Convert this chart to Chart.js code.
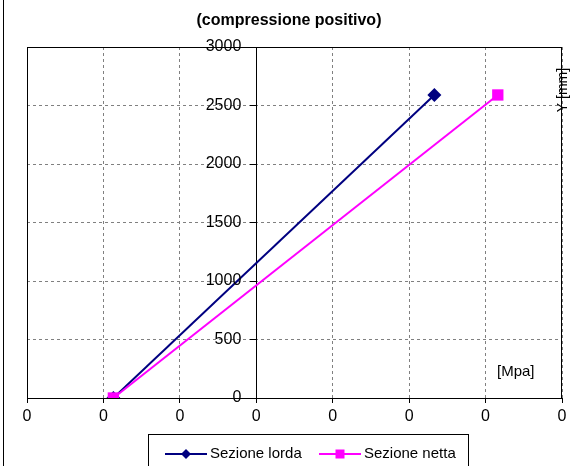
<!DOCTYPE html>
<html>
<head>
<meta charset="utf-8">
<script src="https://cdn.jsdelivr.net/npm/chart.js@4/dist/chart.umd.min.js"></script>
<style>
  html, body { margin: 0; padding: 0; background: #fff; }
  #wrap { width: 570px; height: 466px; position: relative; }
</style>
</head>
<body>
<div id="wrap"><canvas id="c" width="570" height="466"></canvas></div>
<script>
// Stress diagram along the section height
const seriesNames = ['Sezione lorda', 'Sezione netta'];
const heightMm = [0, 2590];           // Y [mm]
const stressLorda = [-0.187, 0.233];  // [MPa], gross section
const stressNetta = [-0.187, 0.316];  // [MPa], net section
const xRange = [-0.3, 0.4];
const xStep = 0.1;
const yRange = [0, 3000];
const yStep = 500;
const chartTitle = '(compressione positivo)';
const xUnit = '[Mpa]';
const yUnit = 'Y [mm]';

const FONT = "'Liberation Sans', Arial, sans-serif";
const NAVY = '#000080';
const MAGENTA = '#FF00FF';

function toPoints(xs, ys) {
  return xs.map((x, i) => ({ x: x, y: ys[i] }));
}

// frame, title, unit labels, y tick labels and boxed legend
const decorations = {
  id: 'decorations',
  beforeDatasetsDraw(chart) {
    const { ctx, chartArea: a } = chart;
    ctx.save();
    ctx.strokeStyle = '#000';
    ctx.lineWidth = 1;
    ctx.strokeRect(Math.round(a.left) + 0.5, Math.round(a.top) + 0.5,
      Math.round(a.right - a.left) - 1, Math.round(a.bottom - a.top));
    ctx.restore();
  },
  afterDraw(chart) {
    const { ctx } = chart;
    const xs = chart.scales.x;
    const ys = chart.scales.y;
    ctx.save();
    // outer chart border (left edge)
    ctx.strokeStyle = '#000';
    ctx.lineWidth = 1;
    ctx.beginPath();
    ctx.moveTo(3.5, 0);
    ctx.lineTo(3.5, chart.height);
    ctx.stroke();

    // y tick labels, left of the axis that crosses at x = 0
    const axisX = xs.getPixelForValue(0);
    ctx.fillStyle = '#000';
    ctx.font = '16px ' + FONT;
    ctx.textAlign = 'right';
    ctx.textBaseline = 'middle';
    ys.ticks.forEach(t => {
      ctx.fillText(String(t.value), axisX - 15, ys.getPixelForValue(t.value));
    });

    // title
    ctx.font = 'bold 16px ' + FONT;
    ctx.textAlign = 'center';
    ctx.fillText(chartTitle, 289, 21);

    // unit labels
    ctx.font = '15px ' + FONT;
    ctx.textAlign = 'left';
    ctx.fillText(xUnit, 497, 372);
    ctx.save();
    ctx.translate(563, 90);
    ctx.rotate(-Math.PI / 2);
    ctx.textAlign = 'center';
    ctx.font = '14px ' + FONT;
    ctx.fillText(yUnit, 0, 0);
    ctx.restore();

    // legend
    ctx.strokeStyle = '#000';
    ctx.lineWidth = 1;
    ctx.strokeRect(148.5, 434.5, 320, 40);
    const rowY = 454;
    const items = chart.data.datasets.map((ds, i) => ({
      label: ds.label, color: ds.borderColor, style: ds.pointStyle,
      x0: i === 0 ? 165 : 319
    }));
    items.forEach(it => {
      ctx.strokeStyle = it.color;
      ctx.fillStyle = it.color;
      ctx.lineWidth = 2;
      ctx.beginPath();
      ctx.moveTo(it.x0, rowY);
      ctx.lineTo(it.x0 + 42, rowY);
      ctx.stroke();
      const cx = it.x0 + 21;
      ctx.beginPath();
      if (it.style === 'rectRot') {
        ctx.moveTo(cx, rowY - 5); ctx.lineTo(cx + 5, rowY);
        ctx.lineTo(cx, rowY + 5); ctx.lineTo(cx - 5, rowY);
        ctx.closePath();
      } else {
        ctx.rect(cx - 4.5, rowY - 4.5, 9, 9);
      }
      ctx.fill();
      ctx.fillStyle = '#000';
      ctx.font = '15px ' + FONT;
      ctx.textAlign = 'left';
      ctx.textBaseline = 'middle';
      ctx.fillText(it.label, it.x0 + 45, rowY);
    });
    ctx.restore();
  }
};

new Chart(document.getElementById('c'), {
  type: 'line',
  data: {
    datasets: [
      {
        label: seriesNames[0],
        data: toPoints(stressLorda, heightMm),
        borderColor: NAVY,
        backgroundColor: NAVY,
        borderWidth: 2,
        pointStyle: 'rectRot',
        pointRadius: 7,
        pointBackgroundColor: NAVY,
        pointBorderColor: NAVY,
        pointBorderWidth: 0,
        order: 1
      },
      {
        label: seriesNames[1],
        data: toPoints(stressNetta, heightMm),
        borderColor: MAGENTA,
        backgroundColor: MAGENTA,
        borderWidth: 2,
        pointStyle: 'rect',
        pointRadius: 8,
        pointBackgroundColor: MAGENTA,
        pointBorderColor: MAGENTA,
        pointBorderWidth: 0,
        order: 0
      }
    ]
  },
  options: {
    responsive: false,
    animation: false,
    devicePixelRatio: 1,
    layout: { padding: { left: 27, right: 3, top: 47, bottom: 0 } },
    plugins: {
      legend: { display: false },
      tooltip: { enabled: false },
      title: { display: false }
    },
    scales: {
      x: {
        type: 'linear',
        position: 'bottom',
        min: xRange[0],
        max: xRange[1],
        ticks: {
          stepSize: xStep,
          color: '#000',
          font: { family: FONT, size: 16 },
          padding: 4,
          maxRotation: 0,
          autoSkip: false,
          callback: v => String(Math.round(v) + 0)
        },
        grid: { color: '#808080', tickColor: '#000', tickLength: 5, lineWidth: 1 },
        border: { color: '#000', width: 1, dash: [3, 3] },
        afterFit(s) { s.height = 68; s.paddingLeft = 0; s.paddingRight = 0; }
      },
      y: {
        type: 'linear',
        position: { x: 0 },
        min: yRange[0],
        max: yRange[1],
        ticks: {
          stepSize: yStep,
          display: false
        },
        grid: { color: '#808080', tickColor: '#000', tickLength: 6, lineWidth: 1 },
        border: { color: '#000', width: 1, dash: [3, 3] }
      }
    }
  },
  plugins: [decorations]
});
</script>
</body>
</html>
